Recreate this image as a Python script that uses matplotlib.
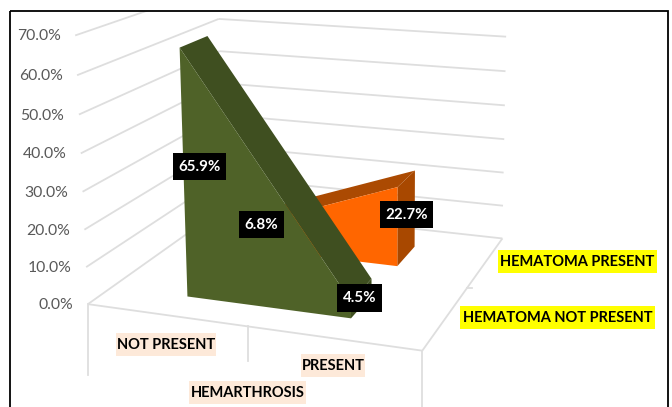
import numpy as np
import matplotlib
matplotlib.use("Agg")
import matplotlib.pyplot as plt
from matplotlib.patches import Polygon, Rectangle

plt.rcParams['font.family'] = ['Lato', 'DejaVu Sans']

categories = ["NOT PRESENT", "PRESENT"]
category_title = "HEMARTHROSIS"
series_names = ["HEMATOMA NOT PRESENT", "HEMATOMA PRESENT"]
not_present_values = [65.9, 4.5]
present_values = [6.8, 22.7]
y_ticks = [0, 10, 20, 30, 40, 50, 60, 70]

W, H = 672, 407
fig = plt.figure(figsize=(W / 100, H / 100), dpi=100)
ax = fig.add_axes([0, 0, 1, 1])
ax.set_xlim(0, W)
ax.set_ylim(H, 0)
ax.axis("off")

# camera calibration: (category axis, depth axis, value) -> screen
world = np.array([[0, 0, 0], [1, 0, 0], [1, 1, 0], [0, 1, 0], [0, 0, 70],
                  [0, 1, 60], [1, 1, 60], [0, 0, 30], [1, 1, 30]], float)
screen = np.array([[88, 304], [422, 351], [503, 238], [224, 208], [76, 35],
                   [218, 19], [507, 37], [82, 192], [503, 139]], float)
A = []
for (u, v, w), (x, y) in zip(world, screen):
    A.append([u, v, w, 1, 0, 0, 0, 0, -x * u, -x * v, -x * w, -x])
    A.append([0, 0, 0, 0, u, v, w, 1, -y * u, -y * v, -y * w, -y])
P = np.linalg.svd(np.array(A))[2][-1].reshape(3, 4)


def proj(u, v, w):
    p = P @ np.array([u, v, w, 1.0])
    return p[0] / p[2], p[1] / p[2]


frame = Rectangle((9.5, 10.5), 658, 420, fc="none", ec="black", lw=1.3, zorder=20)
ax.add_patch(frame)
GRID = "#DEDEDE"


def line(a, b, lw=1.3):
    pa, pb = proj(*a), proj(*b)
    ln, = ax.plot([pa[0], pb[0]], [pa[1], pb[1]], color=GRID, lw=lw, zorder=1,
                  solid_capstyle="butt")
    ln.set_clip_path(Rectangle((9.5, 10.5), 658, 420, transform=ax.transData))


for t in y_ticks:
    line((0, 0, t), (0, 1, t))
    line((0, 1, t), (1, 1, t))
    x, y = proj(0, 0, t)
    ax.text(x - 14.5, y + 1, f"{t:.1f}%", ha="right", va="center", fontsize=11.3,
            color="#595959")

line((0, 0, 0), (1, 0, 0))
line((1, 0, 0), (1, 1, 0))
x0, y0 = proj(0, 0, 0)
x1, y1 = proj(0.5, 0, 0)
x2, y2 = proj(1, 0, 0)
for x, y, d in [(x0, y0, 71), (x1, y1, 35), (x2, y2, 70)]:
    ax.plot([x, x], [y, y + d], color=GRID, lw=1.3, zorder=1)
xm, ym = proj(1, 0.5, 0)
ax.plot([xm, xm + 5], [ym, ym], color=GRID, lw=1.3, zorder=1)


def area(vals, d0, d1, front, dark, side, z):
    u0, u1 = 0.245, 0.75
    front_face = [proj(u0, d0, 0), proj(u0, d0, vals[0]), proj(u1, d0, vals[1]), proj(u1, d0, 0)]
    top_face = [proj(u0, d0, vals[0]), proj(u0, d1, vals[0]), proj(u1, d1, vals[1]), proj(u1, d0, vals[1])]
    side_face = [proj(u1, d0, 0), proj(u1, d0, vals[1]), proj(u1, d1, vals[1]), proj(u1, d1, 0)]
    ax.add_patch(Polygon(side_face, fc=side, ec="none", zorder=z))
    ax.add_patch(Polygon(top_face, fc=dark, ec="none", zorder=z))
    ax.add_patch(Polygon(front_face, fc=front, ec="none", zorder=z + 0.1))


area(present_values, 0.62, 0.82, "#FF6600", "#AB4A02", "#A84800", 3)
area(not_present_values, 0.155, 0.35, "#4F6228", "#3F4F20", "#3F4F20", 5)


def value_label(txt, x0, x1, y0, y1):
    ax.add_patch(Rectangle((x0, y0), x1 - x0, y1 - y0, fc="black", ec="none", zorder=9))
    ax.text((x0 + x1) / 2, (y0 + y1) / 2 + 0.5, txt, ha="center", va="center", color="white",
            fontsize=10.9, fontweight="bold", zorder=10)


value_label(f"{not_present_values[0]}%", 173, 226, 153, 180)
value_label(f"{present_values[0]}%", 239, 284, 211, 238)
value_label(f"{present_values[1]}%", 380, 433, 201, 228)
value_label(f"{not_present_values[1]}%", 337, 382, 284, 312)


def hl(txt, x0, x1, y0, y1, col):
    ax.add_patch(Rectangle((x0, y0), x1 - x0, y1 - y0, fc=col, ec="none", zorder=9))
    ax.text((x0 + x1) / 2, (y0 + y1) / 2 + 0.5, txt, ha="center", va="center", color="black",
            fontsize=10.5, fontweight="bold", zorder=10)


PEACH = "#FDE9D9"
hl(categories[0], 116, 216, 333, 356, PEACH)
hl(categories[1], 301, 365, 354, 377, PEACH)
hl(category_title, 189, 306, 381, 404, PEACH)
hl(series_names[1], 498, 657, 250, 273, "#FFFF00")
hl(series_names[0], 460, 655, 306, 329, "#FFFF00")

fig.savefig("out.png", dpi=100)
